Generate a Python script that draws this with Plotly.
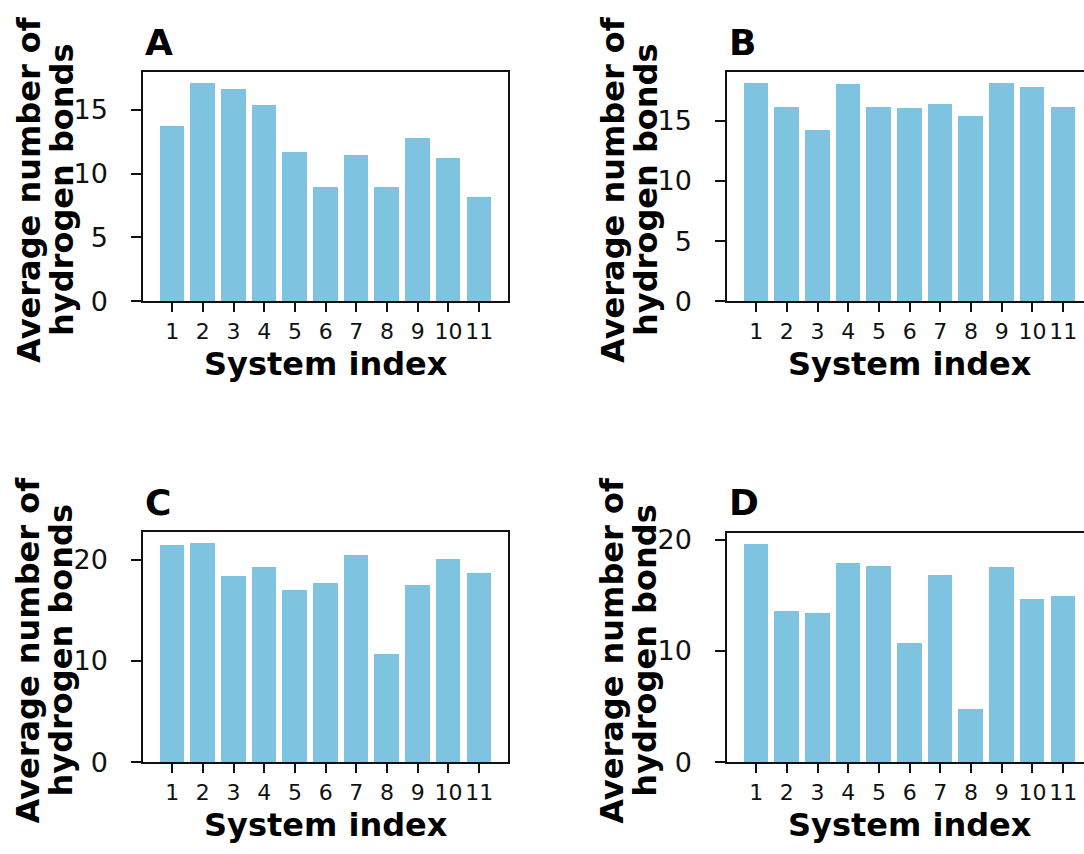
import plotly.graph_objects as go

# Average number of hydrogen bonds per system, four panels
systems = list(range(1, 12))
panel_a = [13.72, 17.10, 16.60, 15.40, 11.68, 8.96, 11.43, 8.91, 12.78, 11.25, 8.14]
panel_b = [18.12, 16.09, 14.19, 18.00, 16.11, 16.03, 16.36, 15.38, 18.12, 17.76, 16.11]
panel_c = [21.37, 21.60, 18.34, 19.20, 16.97, 17.64, 20.45, 10.62, 17.45, 19.97, 18.60]
panel_d = [19.62, 13.60, 13.39, 17.88, 17.62, 10.72, 16.84, 4.78, 17.54, 14.70, 14.93]
panel_letters = ["A", "B", "C", "D"]
y_dticks = [5, 5, 10, 10]
x_label = "System index"
y_label_lines = ["Average number of", "hydrogen bonds"]

W, H = 1084, 854
BAR = "#7ec4e0"
INK = "#111111"
FONT = "DejaVu Sans"

# panel boxes in pixels: left, right, top, bottom (right panels run past the page edge)
boxes = [
    (143.3, 508.0, 65.0, 300.7),
    (727.3, 1092.0, 65.0, 300.7),
    (143.3, 508.0, 538.5, 775.0),
    (727.3, 1092.0, 539.0, 775.0),
]
x_lo, x_hi = 0.06, 11.94

fig = go.Figure()
series = [panel_a, panel_b, panel_c, panel_d]
for i, (vals, (l, r, t, b)) in enumerate(zip(series, boxes)):
    n = i + 1
    xa = "x" if n == 1 else f"x{n}"
    ya = "y" if n == 1 else f"y{n}"
    fig.add_trace(go.Bar(x=systems, y=vals, width=0.8, marker=dict(color=BAR, line=dict(width=0)),
                         xaxis=xa, yaxis=ya, showlegend=False))
    r_vis = min(r, W)
    px_per_unit = (r - l) / (x_hi - x_lo)
    x_end = x_lo + (r_vis - l) / px_per_unit
    clipped = r > W
    xkey = "xaxis" if n == 1 else f"xaxis{n}"
    ykey = "yaxis" if n == 1 else f"yaxis{n}"
    fig.update_layout({
        xkey: dict(
            domain=[l / W, r_vis / W], anchor=ya, range=[x_lo, x_end],
            tickmode="array", tickvals=systems, ticktext=[str(s) for s in systems],
            ticks="outside", ticklen=9, tickwidth=2, tickcolor=INK, tickangle=0,
            showline=True, linecolor=INK, linewidth=2, mirror=True,
            showgrid=False, zeroline=False, ticklabelstandoff=0,
            tickfont=dict(family=FONT, size=22, color=INK),
        ),
        ykey: dict(
            domain=[1 - b / H, 1 - t / H], anchor=xa, range=[0, max(vals) * 1.05],
            dtick=y_dticks[i], tick0=0,
            ticks="outside", ticklen=10, tickwidth=2, tickcolor=INK,
            showline=True, linecolor=INK, linewidth=2, mirror=not clipped,
            showgrid=False, zeroline=False, ticklabelstandoff=18,
            tickfont=dict(family=FONT, size=27, color=INK),
        ),
    })
    cx = (l + r) / 2
    cy = (t + b) / 2
    # x-axis title
    fig.add_annotation(text=f"<b>{x_label}</b>", xref="paper", yref="paper",
                       x=cx / W, y=1 - (b + 65) / H, xanchor="center", yanchor="middle",
                       showarrow=False, font=dict(family=FONT, size=32, color="black"))
    # two-line y-axis title
    for k, line in enumerate(y_label_lines):
        fig.add_annotation(text=f"<b>{line}</b>", xref="paper", yref="paper",
                           x=(l - 115 + 33 * k) / W, y=1 - (cy + 3) / H,
                           xanchor="center", yanchor="middle", textangle=-90,
                           showarrow=False, font=dict(family=FONT, size=32, color="black"))
    # panel letter
    fig.add_annotation(text=f"<b>{panel_letters[i]}</b>", xref="paper", yref="paper",
                       x=l / W, y=1 - (t - 31) / H, xanchor="left", yanchor="middle",
                       showarrow=False, font=dict(family=FONT, size=36, color="black"))

fig.update_layout(width=W, height=H, margin=dict(l=0, r=0, t=0, b=0),
                  paper_bgcolor="white", plot_bgcolor="white", bargap=0)
fig.write_html("out.html", config={"displayModeBar": False})
